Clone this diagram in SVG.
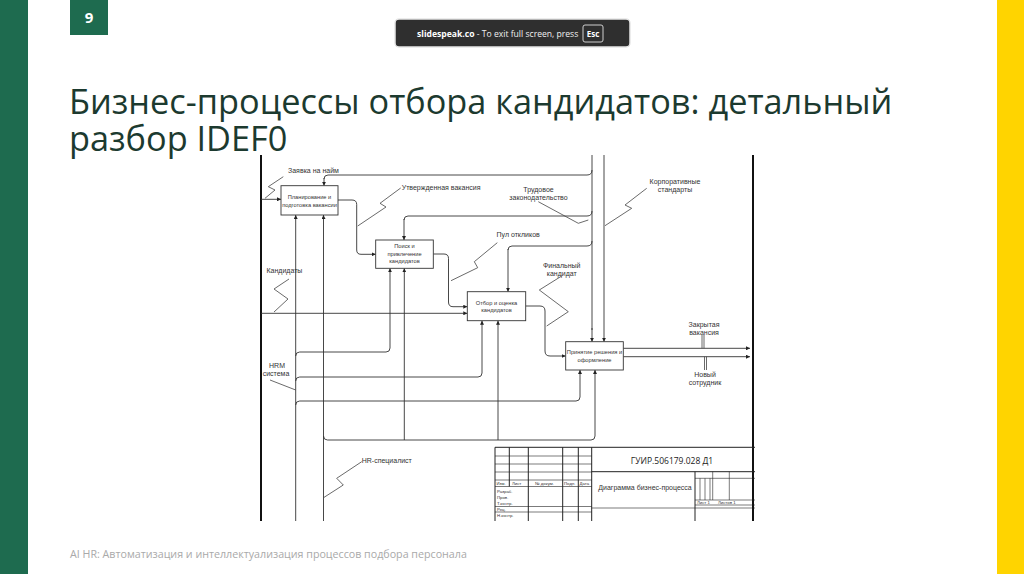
<svg xmlns="http://www.w3.org/2000/svg" width="1024" height="574" viewBox="0 0 1024 574">
<defs>
<marker id="ah" viewBox="0 0 8 8" refX="8" refY="4" markerWidth="4" markerHeight="4" orient="auto" markerUnits="userSpaceOnUse">
<path d="M0,0 L8,4 L0,8 z" fill="#222"/>
</marker>
<style>
.ln{fill:none;stroke:#333;stroke-width:0.9}
.ar{fill:none;stroke:#333;stroke-width:0.9;marker-end:url(#ah)}
.ld{fill:none;stroke:#444;stroke-width:0.8}
.bx{fill:#fff;stroke:#333;stroke-width:0.9}
.bt{font-family:"Liberation Sans",Arial,sans-serif;font-size:5.7px;fill:#333;text-anchor:middle}
.lb{font-family:"Liberation Sans",Arial,sans-serif;font-size:7px;fill:#333}
.st{fill:none;stroke:#222;stroke-width:1}
.sth{fill:none;stroke:#222;stroke-width:0.6}
.sm{font-family:"Liberation Sans",Arial,sans-serif;font-size:4.3px;fill:#333}
</style>
</defs>
<rect x="0" y="0" width="1024" height="574" fill="#fff"/>
<rect x="0" y="0" width="28" height="574" fill="#1e6b4f"/>
<rect x="997" y="0" width="27" height="574" fill="#ffd400"/>
<g id="badge">
<rect x="70" y="0" width="38" height="35" fill="#1e6b4f"/>
<text x="89" y="23" font-family="Open Sans,sans-serif" font-weight="bold" font-size="15" fill="#fff" text-anchor="middle">9</text>
</g>
<g id="banner">
<rect x="395" y="19" width="235" height="28" rx="4" fill="#2f2f2f" stroke="#e6e6e6" stroke-width="1.5"/>
<text x="417" y="36.5" font-family="Open Sans,sans-serif" font-size="8.6" fill="#f0f0f0"><tspan font-weight="bold" fill="#fff">slidespeak.co</tspan>  -  To exit full screen, press</text>
<rect x="583" y="25" width="20" height="17" rx="2" fill="#2f2f2f" stroke="#cfcfcf" stroke-width="1"/>
<text x="593" y="36.5" font-family="Open Sans,sans-serif" font-weight="bold" font-size="8" fill="#fff" text-anchor="middle">Esc</text>
</g>
<text id="title" font-family="Open Sans,sans-serif" font-size="34.3" fill="#1c3a2f"><tspan x="69" y="113.5">Бизнес-процессы отбора кандидатов: детальный</tspan><tspan x="69" y="150.5">разбор IDEF0</tspan></text>
<text id="footer" x="70" y="558" font-family="Open Sans,sans-serif" font-size="10.7" fill="#a9a9a9">AI HR: Автоматизация и интеллектуализация процессов подбора персонала</text>

<g id="frame">
<line x1="261" y1="155" x2="261" y2="521" stroke="#111" stroke-width="2"/>
<line x1="753" y1="155" x2="753" y2="521" stroke="#111" stroke-width="2"/>
</g>

<g id="connectors">
<path class="ar" d="M261,199.3 H281"/>
<path class="ln" d="M592,155 V330"/>
<path class="ar" d="M592,328 V341.7"/>
<path class="ln" d="M592,170 Q592,175 587,175 H328 Q324,175 324,179"/>
<path class="ar" d="M324,178 V185.7"/>
<path class="ln" d="M592,211 Q592,216 587,216 H408 Q404,216 404,220"/>
<path class="ar" d="M404,219 V240"/>
<path class="ln" d="M592,241 Q592,246 587,246 H512 Q508,246 508,250"/>
<path class="ar" d="M508,249 V291.7"/>
<path class="ar" d="M604,155 V341.7"/>
<path class="ar" d="M338,200 H352 Q356.7,200 356.7,204.5 V250 Q356.7,254.3 361,254.3 H375.7"/>
<path class="ar" d="M433.3,254 H444 Q448.5,254 448.5,258.5 V302 Q448.5,306.7 453,306.7 H467.3"/>
<path class="ar" d="M261,313.3 H467.3"/>
<path class="ar" d="M525.7,306 H540 Q545,306 545,311 V351 Q545,356 550,356 H565.7"/>
<path class="ar" d="M623.3,348.3 H750"/>
<path class="ar" d="M623.3,356.7 H750"/>
<path class="ar" d="M295.7,521 V215"/>
<path class="ar" d="M295.7,356 Q295.7,352 299.7,352 H386 Q390,352 390,348 V268.3"/>
<path class="ar" d="M295.7,381 Q295.7,377 299.7,377 H478 Q482,377 482,373 V320.7"/>
<path class="ar" d="M295.7,405 Q295.7,401 299.7,401 H576 Q580,401 580,397 V370"/>
<path class="ar" d="M323.5,521 V215"/>
<path class="ar" d="M323.5,436 Q323.5,440 327.5,440 H591 Q595,440 595,436 V370"/>
<path class="ar" d="M404.3,440 V268.3"/>
<path class="ar" d="M498,440 V320.7"/>
<polyline class="ld" points="283.3,176.7 268.3,186.7 275,190 265,198.3"/>
<polyline class="ld" points="400.7,188 380,203.3 386,207 357.7,226"/>
<polyline class="ld" points="538.3,201.7 578.3,223.3 588.3,220"/>
<polyline class="ld" points="646.7,188.3 625,205 631.7,208.3 605,225.7"/>
<polyline class="ld" points="497.3,242.7 474.3,261.7 477.7,267.7 451,280.7"/>
<polyline class="ld" points="561.7,276 539.3,290 568.3,311.7 546.7,326"/>
<polyline class="ld" points="289,279 274,289 288,299 274,312"/>
<polyline class="ld" points="270,380 295.7,390"/>
<polyline class="ld" points="361.7,461.7 336.7,478.3 343.3,485 323.5,497.7"/>
<path class="ld" d="M702,335 V348.3 M704,335 V348.3"/>
<path class="ld" d="M704.5,356.7 V370 M706.5,356.7 V370"/>
</g>

<g id="box1">
<rect class="bx" x="281" y="185.7" width="57" height="29.3"/>
<text class="bt" x="309.5" y="199">Планирование и</text>
<text class="bt" x="309.5" y="206.5">подготовка вакансии</text>
</g>
<g id="box2">
<rect class="bx" x="375.7" y="240" width="57.6" height="28.3"/>
<text class="bt" x="404.5" y="248">Поиск и</text>
<text class="bt" x="404.5" y="255.5">привлечение</text>
<text class="bt" x="404.5" y="263">кандидатов</text>
</g>
<g id="box3">
<rect class="bx" x="467.3" y="291.7" width="58.4" height="29"/>
<text class="bt" x="496.5" y="304.5">Отбор и оценка</text>
<text class="bt" x="496.5" y="312">кандидатов</text>
</g>
<g id="box4">
<rect class="bx" x="565.7" y="341.7" width="57.6" height="28.3"/>
<text class="bt" x="594.5" y="354">Принятие решения и</text>
<text class="bt" x="594.5" y="361.5">оформление</text>
</g>

<g id="labels">
<text class="lb" x="288" y="173" font-size="6">Заявка на найм</text>
<text class="lb" x="401.7" y="189.5">Утвержденная вакансия</text>
<text class="lb" x="538.5" y="191.5" text-anchor="middle">Трудовое</text>
<text class="lb" x="538.5" y="200" text-anchor="middle">законодательство</text>
<text class="lb" x="675" y="183.5" text-anchor="middle">Корпоративные</text>
<text class="lb" x="675" y="191.5" text-anchor="middle">стандарты</text>
<text class="lb" x="496.5" y="236.5">Пул откликов</text>
<text class="lb" x="561.7" y="267.5" text-anchor="middle">Финальный</text>
<text class="lb" x="561.7" y="275.5" text-anchor="middle">кандидат</text>
<text class="lb" x="266.5" y="272.5">Кандидаты</text>
<text class="lb" x="277" y="367.5" text-anchor="middle">HRM</text>
<text class="lb" x="276" y="375.5" text-anchor="middle">система</text>
<text class="lb" x="704" y="326.5" text-anchor="middle">Закрытая</text>
<text class="lb" x="704" y="335" text-anchor="middle">вакансия</text>
<text class="lb" x="705" y="376.5" text-anchor="middle">Новый</text>
<text class="lb" x="705" y="384.5" text-anchor="middle">сотрудник</text>
<text class="lb" x="361.7" y="462.5">HR-специалист</text>
</g>

<g id="stamp">
<path class="st" d="M495,521 V447.3 H755 M591.7,447.3 V521 M591.7,471.7 H755 M695,471.7 V521"/>
<path class="sth" d="M495,456 H591.7 M495,464 H591.7 M495,472 H591.7 M495,480 H591.7 M495,486.5 H591.7 M495,506.5 H591.7 M495,512 H591.7"/>
<path class="st" d="M509.3,447.3 V486.5 M528.3,447.3 V521 M562.7,447.3 V521 M578.3,447.3 V521"/>
<path class="sth" d="M695,478.3 H755 M712.7,471.7 V500 M729.3,471.7 V500 M700,478.3 V500 M705,478.3 V500 M710,478.3 V500 M695,500 H755 M695,505 H755 M591.7,508 H755"/>
<text x="672" y="463.5" font-family="Open Sans,sans-serif" font-size="8.5" fill="#222" text-anchor="middle">ГУИР.506179.028 Д1</text>
<text x="645" y="489.5" font-family="Liberation Sans,Arial,sans-serif" font-size="7" fill="#333" text-anchor="middle">Диаграмма бизнес-процесса</text>
<text class="sm" x="496.5" y="484.7">Изм.</text>
<text class="sm" x="512" y="484.7">Лист</text>
<text class="sm" x="535" y="484.7">№ докум.</text>
<text class="sm" x="564" y="484.7">Подп.</text>
<text class="sm" x="579.5" y="484.7">Дата</text>
<text class="sm" x="497" y="493">Разраб.</text>
<text class="sm" x="497" y="499">Пров.</text>
<text class="sm" x="497" y="505">Т.контр.</text>
<text class="sm" x="497" y="511">Рец.</text>
<text class="sm" x="497" y="517">Н.контр.</text>
<text class="sm" x="697" y="504">Лист 1</text>
<text class="sm" x="718" y="504">Листов  1</text>
</g>
</svg>
